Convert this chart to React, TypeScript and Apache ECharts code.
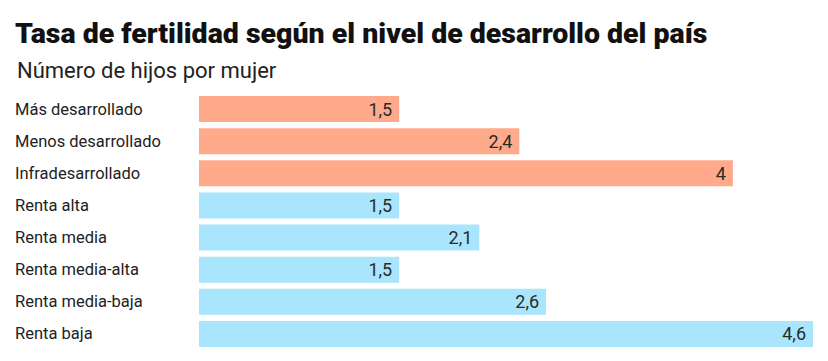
import React, { useEffect, useRef } from "react";
import * as echarts from "echarts";

const titleText = "Tasa de fertilidad según el nivel de desarrollo del país";
const subtitleText = "Número de hijos por mujer";
const categories = [
  "Más desarrollado",
  "Menos desarrollado",
  "Infradesarrollado",
  "Renta alta",
  "Renta media",
  "Renta media-alta",
  "Renta media-baja",
  "Renta baja",
];
const values = [1.5, 2.4, 4, 1.5, 2.1, 1.5, 2.6, 4.6];
const groups = ["dev", "dev", "dev", "inc", "inc", "inc", "inc", "inc"];
const groupColors: Record<string, string> = { dev: "#FEAA8B", inc: "#A9E5FC" };

export default function App() {
  const ref = useRef<HTMLDivElement>(null);
  useEffect(() => {
    if (!ref.current) return;
    const chart = echarts.init(ref.current, undefined, { renderer: "svg" });
    chart.setOption({
      animation: false,
      backgroundColor: "#ffffff",
      title: [
        {
          text: titleText,
          left: 10,
          top: 14,
          textStyle: {
            fontFamily: "Roboto",
            fontWeight: 900,
            fontSize: 28.5,
            color: "#111111",
          },
        },
        {
          text: subtitleText,
          left: 12,
          top: 54,
          textStyle: {
            fontFamily: "Roboto",
            fontWeight: "normal",
            fontSize: 22,
            color: "#222222",
          },
        },
      ],
      grid: { left: 199, right: 15, top: 93, height: 257, containLabel: false },
      xAxis: { type: "value", min: 0, max: 4.6, show: false },
      yAxis: {
        type: "category",
        inverse: true,
        data: categories,
        axisLine: { show: false },
        axisTick: { show: false },
        splitLine: { show: false },
        axisLabel: {
          align: "left",
          margin: 184,
          fontFamily: "Roboto",
          fontSize: 16.5,
          color: "#222222",
        },
      },
      series: [
        {
          type: "bar",
          barCategoryGap: "19%",
          data: values.map((v, i) => ({
            value: v,
            itemStyle: { color: groupColors[groups[i]] },
          })),
          label: {
            show: true,
            position: "insideRight",
            distance: 7,
            fontFamily: "Roboto",
            fontSize: 18,
            color: "#2a2a2a",
            formatter: (p: any) => String(p.value).replace(".", ","),
          },
        },
      ],
    });
    return () => chart.dispose();
  }, []);
  return (
    <div
      ref={ref}
      style={{ position: "absolute", left: 0, top: 0, width: 828, height: 361 }}
    />
  );
}
